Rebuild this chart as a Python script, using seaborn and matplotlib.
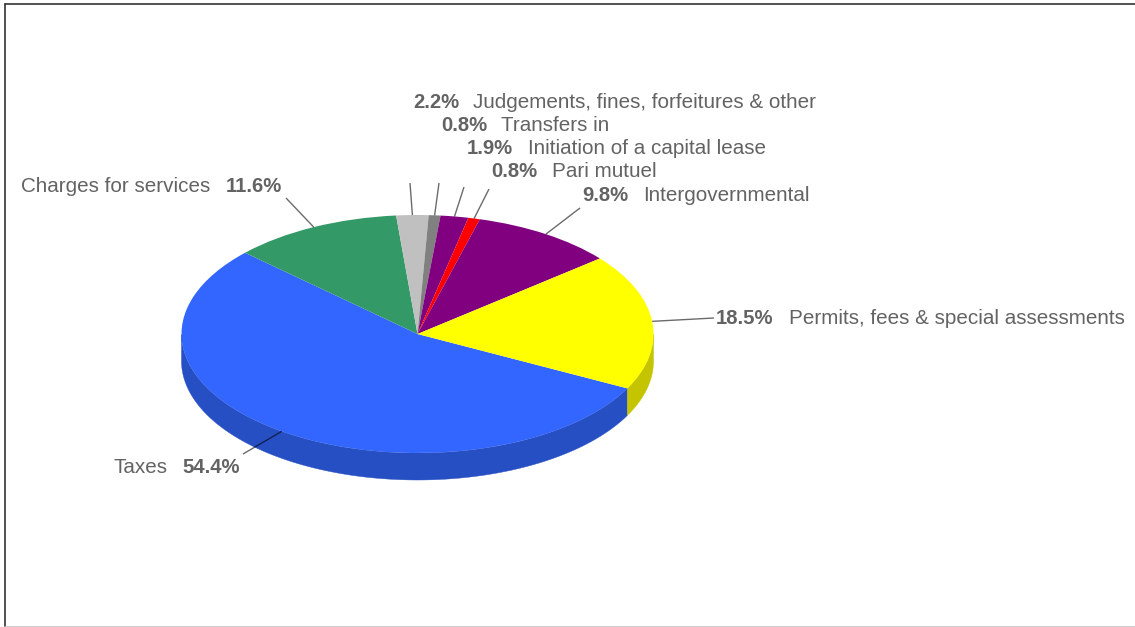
import numpy as np
import matplotlib
matplotlib.use("Agg")
import matplotlib.pyplot as plt
import seaborn as sns

# Revenue shares, clockwise starting from the taxes slice
categories = ["Taxes", "Charges for services", "Judgements, fines, forfeitures & other",
              "Transfers in", "Initiation of a capital lease", "Pari mutuel",
              "Intergovernmental", "Permits, fees & special assessments"]
shares = [54.4, 11.6, 2.2, 0.8, 1.9, 0.8, 9.8, 18.5]
slice_colors = ["#3366ff", "#339966", "#c0c0c0", "#808080",
                "#800080", "#ff0000", "#800080", "#ffff00"]

# Label placement in pixels: value right edge, name left edge, vertical centre
value_x = [240, 282, 459, 487, 513, 537, 628, 773]
name_x = [113, 21, 473, 501, 528, 552, 643, 789]
label_y = [468, 187, 103, 126, 149, 172, 196, 319]
leader_end = [(243, 454), (286, 198), (410, 183), (439, 183),
              (464, 187), (489, 189), (580, 208), (714, 318)]

W, H = 1135, 627
CX, CY, RX, RY, DEPTH = 417.5, 334.0, 236.0, 119.0, 27.0
START = -27.2  # degrees counter-clockwise from east


def px(x, y):
    """Pixel position to pie units (the pie is a unit circle in data space)."""
    return (x - CX) / RX, (CY - y) / RY


sns.set_theme(style="white")
plt.rcParams["font.family"] = ["Liberation Sans", "DejaVu Sans"]
palette = sns.color_palette(slice_colors)

fig = plt.figure(figsize=(W / 100, H / 100), dpi=100, facecolor="white")
ax = fig.add_axes([0, 0, 1, 1])

wedges, _ = ax.pie(shares, colors=palette, startangle=START, counterclock=False,
                   radius=1, center=(0, 0),
                   wedgeprops={"linewidth": 0, "antialiased": True, "zorder": 3})
ax.set_aspect("auto")
x0, y0 = px(0, H)
x1, y1 = px(W, 0)
ax.set_xlim(x0, x1)
ax.set_ylim(y0, y1)
ax.axis("off")

# Side wall of the disc: only the part of each slice on the near half shows
depth = DEPTH / RY
edges = START - np.cumsum([0] + shares) * 3.6
for i, color in enumerate(palette):
    hi, lo = edges[i], edges[i + 1]
    theta = np.radians(np.linspace(lo, hi, 200))
    theta = theta[np.sin(theta) <= 0]
    if theta.size == 0:
        theta = np.radians(np.linspace(lo - 360, hi - 360, 200))
        theta = theta[np.sin(theta) <= 0]
    if theta.size == 0:
        continue
    dark = tuple(c * 0.77 for c in color)
    xs = np.concatenate([np.cos(theta), np.cos(theta[::-1])])
    ys = np.concatenate([np.sin(theta), np.sin(theta[::-1]) - depth])
    ax.fill(xs, ys, color=dark, linewidth=0.3, zorder=2)

# Leader lines run from the middle of each slice's rim out to its label
for i, end in enumerate(leader_end):
    mid = np.radians((edges[i] + edges[i + 1]) / 2)
    ex, ey = px(*end)
    ax.plot([np.cos(mid), ex], [np.sin(mid), ey], color="black", alpha=0.58,
            linewidth=1.0, solid_capstyle="butt", zorder=4)

# Labels: bold percentage plus the category name
text_color = "#636363"
for i, name in enumerate(categories):
    vx, vy = px(value_x[i], label_y[i])
    nx, ny = px(name_x[i], label_y[i])
    ax.text(vx, vy, f"{shares[i]}%", ha="right", va="center", fontsize=14.6,
            fontweight="bold", color=text_color, zorder=5)
    ax.text(nx, ny, name, ha="left", va="center", fontsize=14.85,
            color=text_color, zorder=5)

# Thin frame round the chart area
fx0, fy_top = px(5.0, 4.5)
fx1, fy_bot = px(W, 626.5)
ax.plot([fx0, fx0], [fy_bot, fy_top], color="#333333", linewidth=1.2, zorder=6, clip_on=False)
ax.plot([fx0, fx1], [fy_top, fy_top], color="#333333", linewidth=1.2, zorder=6, clip_on=False)
ax.plot([fx0, fx1], [fy_bot, fy_bot], color="#c4c4c4", linewidth=1.2, zorder=6, clip_on=False)

fig.savefig("out.png", dpi=100, facecolor="white")
